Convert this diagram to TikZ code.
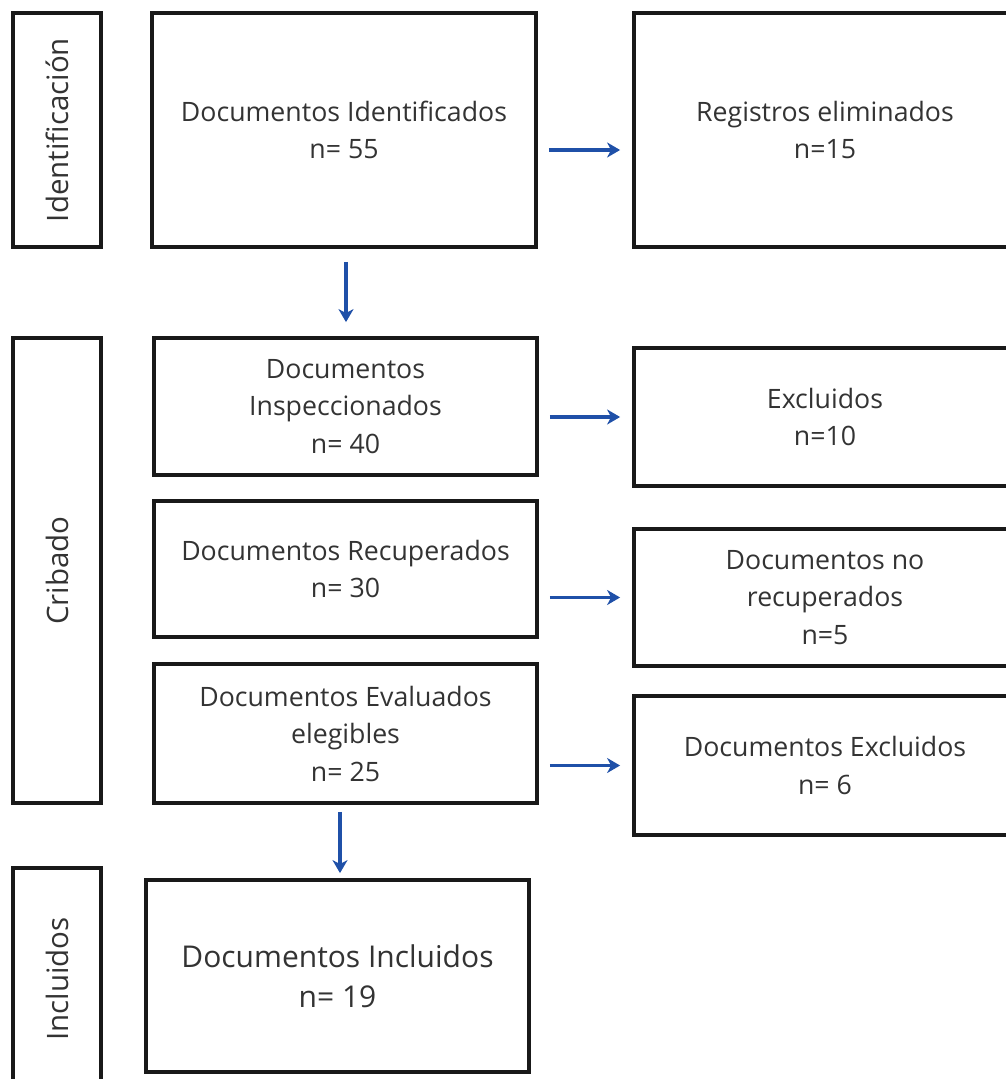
\documentclass[tikz,border=0pt]{standalone}
\usepackage{fontspec}
\setmainfont{Open Sans}
\usetikzlibrary{arrows.meta}
\definecolor{txt}{HTML}{333333}
\definecolor{arr}{HTML}{1F50A8}
\tikzset{
  box/.style={draw=black!90, line width=3.8pt, align=center, text=txt, inner sep=0pt,
    font=\fontsize{26.7}{37.5}\selectfont},
  lab/.style={box, font=\fontsize{29.5}{36}\selectfont},
  flow/.style={draw=arr, line width=3.6pt, -{Stealth[length=13pt,width=15pt,inset=4pt]}}
}
\begin{document}
\begin{tikzpicture}[x=1pt,y=1pt]
\useasboundingbox (0,0) rectangle (1006,-1079);
\clip (0,0) rectangle (1006,-1079);
% phase labels
\node[lab, rotate=90, minimum width=234pt, minimum height=88pt] (l1) at (57,-130) {Identificación};
\node[lab, rotate=90, minimum width=465pt, minimum height=88pt] (l2) at (57,-570.5) {Cribado};
\node[lab, rotate=90, minimum width=222pt, minimum height=88pt] (l3) at (57,-979) {Incluidos};
% centre column
\node[box, minimum width=384pt, minimum height=234pt] (c1) at (344,-130) {Documentos Identificados\\n= 55};
\node[box, minimum width=383pt, minimum height=137pt] (c2) at (345.5,-406.5) {Documentos\\Inspeccionados\\n= 40};
\node[box, minimum width=383pt, minimum height=136pt] (c3) at (345.5,-569) {Documentos Recuperados\\n= 30};
\node[box, minimum width=383pt, minimum height=139pt] (c4) at (345.5,-733.5) {Documentos Evaluados\\elegibles\\n= 25};
\node[box, minimum width=383pt, minimum height=192pt, font=\fontsize{30}{40}\selectfont] (c5) at (337.5,-976) {Documentos Incluidos\\n= 19};
% right column
\node[box, minimum width=382pt, minimum height=234pt] (r1) at (825,-130) {Registros eliminados\\n=15};
\node[box, minimum width=382pt, minimum height=138pt] (r2) at (825,-417) {Excluidos\\n=10};
\node[box, minimum width=382pt, minimum height=137pt] (r3) at (825,-597.5) {Documentos no\\recuperados\\n=5};
\node[box, minimum width=382pt, minimum height=139pt] (r4) at (825,-765.5) {Documentos Excluidos\\n= 6};
% connectors
\draw[flow, shorten <=11pt, shorten >=12pt] ([yshift=-20pt]c1.east) -- ([yshift=-20pt]r1.west);
\draw[flow, shorten <=11pt, shorten >=12pt] (c2.east |- r2.west) -- (r2.west);
\draw[flow, shorten <=11pt, shorten >=12pt] (c3.east |- r3.west) -- (r3.west);
\draw[flow, shorten <=11pt, shorten >=12pt] (c4.east |- r4.west) -- (r4.west);
\draw[flow, shorten <=13pt, shorten >=14pt] ([xshift=2pt]c1.south) -- ([xshift=2pt]c1.south |- c2.north);
\draw[flow, shorten <=7pt, shorten >=5pt] ([xshift=2.5pt]c5.north |- c4.south) -- ([xshift=2.5pt]c5.north);
\end{tikzpicture}
\end{document}
